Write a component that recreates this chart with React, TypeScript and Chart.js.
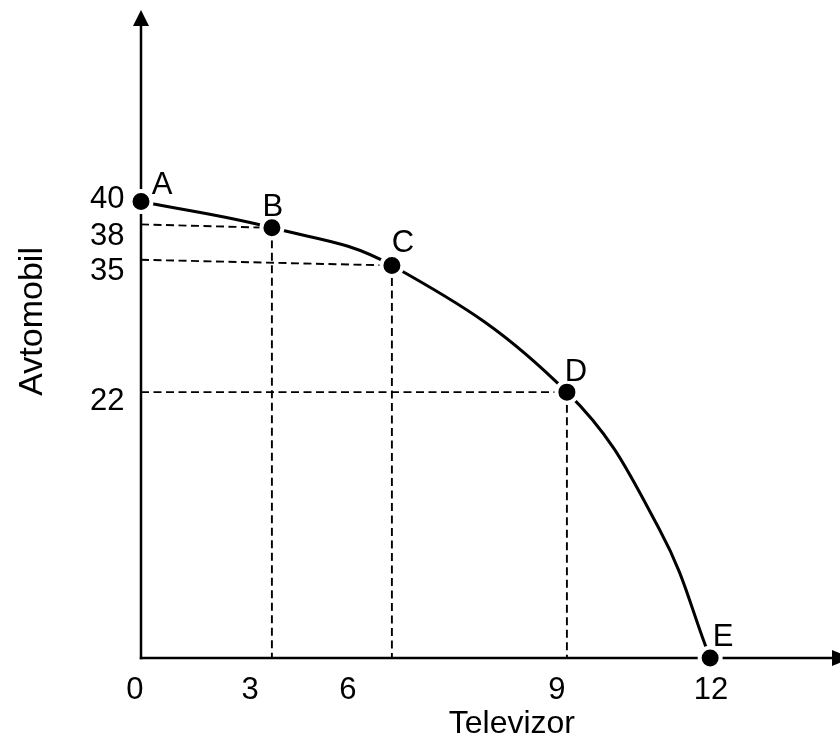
import React, { useEffect, useRef } from 'react';
import { Chart, registerables } from 'chart.js';

Chart.register(...registerables);

// ---- data ----
const pointNames = ['A', 'B', 'C', 'D', 'E'];
const televizor = [0, 2.76, 5.29, 8.98, 12];
const avtomobil = [40, 37.7, 34.4, 23.3, 0];
const frontierX = [0, 2.76, 5.29, 8.98, 10.94, 12];
const frontierY = [40, 37.7, 34.4, 23.3, 11.2, 0];
// where the horizontal dashed guides of B, C, D start on the Avtomobil axis
const guideStartY = [38, 34.9, 23.3];
const xTickLabels = ['0', '3', '6', '9', '12'];
const xTickAt = [-0.13, 2.3, 4.36, 8.77, 12.02];
const yTickLabels = ['40', '38', '35', '22'];
const yTickAt = [40.4, 37.2, 34.1, 22.7];
const xTitle = 'Televizor';
const yTitle = 'Avtomobil';

const FONT = '"Liberation Sans", Arial, sans-serif';
const FS = 31;
const CAP = 0.716;
const labelOffsets = [
  [21, -19],
  [1, -23],
  [11, -25],
  [9, -22],
  [13, -23],
];

const decor = {
  id: 'decor',
  beforeDatasetsDraw(chart: any) {
    const { ctx, scales } = chart;
    const x0 = scales.x.getPixelForValue(0);
    const y0 = scales.y.getPixelForValue(0);
    ctx.save();
    ctx.strokeStyle = '#000';
    ctx.fillStyle = '#000';
    ctx.lineWidth = 2.5;
    ctx.beginPath();
    ctx.moveTo(x0, y0 + 1.2);
    ctx.lineTo(x0, 22);
    ctx.stroke();
    ctx.beginPath();
    ctx.moveTo(x0, 10);
    ctx.lineTo(x0 - 8, 26);
    ctx.lineTo(x0 + 8, 26);
    ctx.closePath();
    ctx.fill();
    ctx.beginPath();
    ctx.moveTo(x0 - 1.2, y0);
    ctx.lineTo(836, y0);
    ctx.stroke();
    ctx.beginPath();
    ctx.moveTo(852, y0);
    ctx.lineTo(832, y0 - 8);
    ctx.lineTo(832, y0 + 8);
    ctx.closePath();
    ctx.fill();
    ctx.restore();
  },
  afterDraw(chart: any) {
    const { ctx, scales } = chart;
    const x0 = scales.x.getPixelForValue(0);
    const y0 = scales.y.getPixelForValue(0);
    ctx.save();
    ctx.fillStyle = '#000';
    ctx.font = `${FS}px ${FONT}`;
    const capOff = (CAP * FS) / 2;
    // y tick labels
    ctx.textAlign = 'right';
    ctx.textBaseline = 'alphabetic';
    yTickLabels.forEach((t, i) => {
      ctx.fillText(t, x0 - 16.5, scales.y.getPixelForValue(yTickAt[i]) + capOff);
    });
    // x tick labels
    ctx.textAlign = 'center';
    xTickLabels.forEach((t, i) => {
      ctx.fillText(t, scales.x.getPixelForValue(xTickAt[i]), y0 + 29.5 + capOff);
    });
    // point labels
    pointNames.forEach((n, i) => {
      const px = scales.x.getPixelForValue(televizor[i]);
      const py = scales.y.getPixelForValue(avtomobil[i]);
      ctx.fillText(n, px + labelOffsets[i][0], py + labelOffsets[i][1] + capOff);
    });
    // axis titles
    ctx.font = `32px ${FONT}`;
    ctx.fillText(xTitle, scales.x.getPixelForValue(7.82), y0 + 64 + (CAP * 32) / 2);
    ctx.font = `34px ${FONT}`;
    ctx.translate(30, scales.y.getPixelForValue(29.5));
    ctx.rotate(-Math.PI / 2);
    ctx.fillText(yTitle, 0, (CAP * 34) / 2);
    ctx.restore();
  },
};

export default function App() {
  const ref = useRef<HTMLCanvasElement>(null);
  useEffect(() => {
    if (!ref.current) return;
    const pts = televizor.map((x, i) => ({ x, y: avtomobil[i] }));
    const frontier = frontierX.map((x, i) => ({ x, y: frontierY[i] }));
    const guides: any[] = [];
    [1, 2, 3].forEach((k, j) => {
      guides.push([
        { x: 0, y: guideStartY[j] },
        { x: televizor[k], y: avtomobil[k] },
      ]);
      guides.push([
        { x: televizor[k], y: avtomobil[k] },
        { x: televizor[k], y: 0 },
      ]);
    });
    const chart = new Chart(ref.current, {
      type: 'line',
      data: {
        datasets: [
          {
            data: pts,
            showLine: false,
            pointRadius: 10.5,
            pointBorderWidth: 4,
            pointBackgroundColor: '#000',
            pointBorderColor: '#fff',
            clip: false,
            order: 0,
          } as any,
          {
            data: frontier,
            borderColor: '#000',
            borderWidth: 3,
            tension: 0.4,
            pointRadius: 0,
            clip: false,
            order: 1,
          } as any,
          ...guides.map((g) => ({
            data: g,
            borderColor: '#000',
            borderWidth: 1.9,
            borderDash: [8, 4.5],
            pointRadius: 0,
            tension: 0,
            clip: false,
            order: 2,
          })),
        ],
      },
      options: {
        animation: false,
        responsive: false,
        events: [],
        layout: { padding: { left: 141, right: 35, top: 19, bottom: 82 } },
        plugins: { legend: { display: false }, tooltip: { enabled: false } },
        scales: {
          x: { type: 'linear', min: 0, max: 14, display: false },
          y: { type: 'linear', min: 0, max: 56, display: false },
        },
      },
      plugins: [decor],
    });
    return () => chart.destroy();
  }, []);
  return (
    <div style={{ position: 'fixed', left: 0, top: 0, width: 840, height: 740, background: '#fff' }}>
      <canvas ref={ref} width={840} height={740} style={{ display: 'block' }} />
    </div>
  );
}
